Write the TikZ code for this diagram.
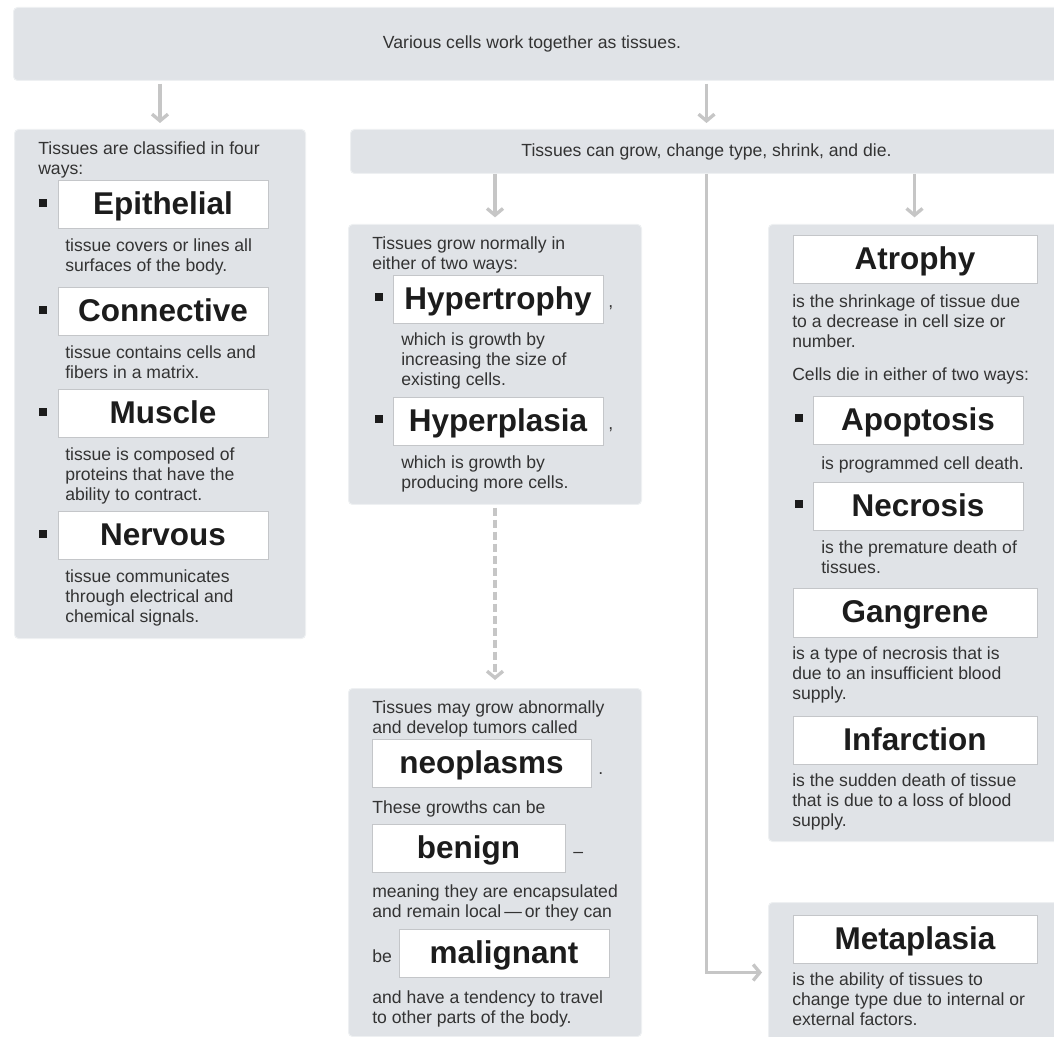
\documentclass[tikz,border=0pt]{standalone}
\usepackage{fontspec}
\setmainfont{Liberation Sans}
\usetikzlibrary{arrows.meta}

\definecolor{panelbg}{HTML}{E0E3E7}
\definecolor{panelrim}{HTML}{EEF0F2}
\definecolor{boxline}{HTML}{C4C6C9}
\definecolor{arrowgray}{HTML}{C6C6C6}
\definecolor{ink}{HTML}{333333}
\definecolor{termink}{HTML}{1C1C1C}

\newcommand{\bodyfont}{\fontsize{13.2}{15}\selectfont}
\newcommand{\termfont}{\fontsize{23.6}{26}\selectfont\bfseries}

\begin{document}
\begin{tikzpicture}[x=0.75pt,y=-0.75pt,
  panel/.style={fill=panelbg,draw=panelrim,line width=0.75pt,rounded corners=3pt,inner sep=0pt,anchor=north west},
  term/.style={draw=boxline,fill=white,line width=0.75pt,font=\termfont,text=termink,minimum height=36pt,text height=16pt,text depth=1pt,inner sep=0pt},
  txt/.style={anchor=north west,align=left,inner sep=0pt,font=\bodyfont,text=ink,yshift=-1.5pt,execute at begin node=\strut},
  punct/.style={anchor=base west,inner sep=0pt,font=\bodyfont,text=ink},
  arr/.style={draw=arrowgray,line width=2.5pt,-{Straight Barb[length=5pt,width=12pt]}}]
  \useasboundingbox (0,0) rectangle (1054,1037);

  % Panels
  \node[panel,minimum width=796.5pt,minimum height=54.75pt] (top) at (13,7) {};
  \node[font=\bodyfont,text=ink] (toptext) at (532,44) {Various cells work together as tissues.};
  \node[panel,minimum width=534pt,minimum height=33pt,font=\bodyfont,text=ink] (mid) at (350,129) {Tissues can grow, change type, shrink, and die.};
  \node[panel,minimum width=218.25pt,minimum height=381.75pt] (classes) at (14,129) {};
  \node[panel,minimum width=219.75pt,minimum height=210pt] (growth) at (348,224) {};
  \node[panel,minimum width=219.75pt,minimum height=261pt] (tumor) at (348,688) {};
  \node[panel,minimum width=219pt,minimum height=462.75pt] (shrink) at (768,224) {};
  \node[panel,minimum width=219pt,minimum height=105pt] (change) at (768,902) {};

  % Connectors
  \draw[arr,shorten <=2pt,shorten >=4.5pt] (top.south -| classes.north) -- (classes.north);
  \draw[arr,shorten <=2pt,shorten >=4.5pt] (top.south -| mid.north) -- (mid.north);
  \draw[arr,shorten >=5pt] (mid.south -| growth.north) -- (growth.north);
  \draw[arr,shorten >=5pt] (mid.south -| shrink.north) -- (shrink.north);
  \draw[arr,dash pattern=on 6pt off 3pt,shorten <=2pt,shorten >=6pt] (growth.south) -- (tumor.north);
  \draw[arr,shorten >=4.5pt] (mid.south) |- (change.west);

  % Bullets
  \foreach \bx/\by in {43/203,43/310,43/412,43/534,379/297,379/419,799/418,799/504}
    \fill[termink] (\bx-4,\by-4) rectangle (\bx+4,\by+4);

  % Four kinds of tissue
  \node[txt] (classintro) at (38,139) {Tissues are classified in four\\ways:};
  \node[term,minimum width=157.5pt] (epi) at (163,205) {Epithelial};
  \node[txt] (epitext) at (65,236) {tissue covers or lines all\\surfaces of the body.};
  \node[term,minimum width=157.5pt] (conn) at (163,312) {Connective};
  \node[txt] (conntext) at (65,343) {tissue contains cells and\\fibers in a matrix.};
  \node[term,minimum width=157.5pt] (musc) at (163,414) {Muscle};
  \node[txt] (musctext) at (65,445) {tissue is composed of\\proteins that have the\\ability to contract.};
  \node[term,minimum width=157.5pt] (nerv) at (163,536) {Nervous};
  \node[txt] (nervtext) at (65,567) {tissue communicates\\through electrical and\\chemical signals.};

  % Normal growth
  \node[txt] (growintro) at (372,234) {Tissues grow normally in\\either of two ways:};
  \node[term,minimum width=157.5pt] (hypert) at (498,300) {Hypertrophy};
  \node[punct] (comma1) at (608,308) {,};
  \node[txt] (hyperttext) at (401,330) {which is growth by\\increasing the size of\\existing cells.};
  \node[term,minimum width=157.5pt] (hyperp) at (498,422) {Hyperplasia};
  \node[punct] (comma2) at (608,430) {,};
  \node[txt] (hyperptext) at (401,453) {which is growth by\\producing more cells.};

  % Abnormal growth
  \node[txt] (tumorintro) at (372,698) {Tissues may grow abnormally\\and develop tumors called};
  \node[term,minimum width=164.25pt] (neo) at (481.5,763.5) {neoplasms};
  \node[punct] (stop) at (598,774) {.};
  \node[txt] (growthtext) at (372,797) {These growths can be};
  \node[term,minimum width=144.75pt] (benign) at (468.5,848) {benign};
  \node[punct] (dash1) at (573,857) {–};
  \node[txt] (benigntext) at (372,882) {meaning they are encapsulated\\and remain local\,—\,or they can};
  \node[punct] (be) at (372,962) {be};
  \node[term,minimum width=157.5pt] (malig) at (504,953) {malignant};
  \node[txt] (maligtext) at (372,988) {and have a tendency to travel\\to other parts of the body.};

  % Shrinking and death
  \node[term,minimum width=183pt] (atro) at (915,260) {Atrophy};
  \node[txt] (atrotext) at (792,292) {is the shrinkage of tissue due\\to a decrease in cell size or\\number.};
  \node[txt] (dieintro) at (792,364) {Cells die in either of two ways:};
  \node[term,minimum width=157.5pt] (apop) at (918,421) {Apoptosis};
  \node[txt] (apoptext) at (821,453) {is programmed cell death.};
  \node[term,minimum width=157.5pt] (necro) at (918,506.5) {Necrosis};
  \node[txt] (necrotext) at (821,538) {is the premature death of\\tissues.};
  \node[term,minimum width=183pt] (gang) at (915,613) {Gangrene};
  \node[txt] (gangtext) at (792,644) {is a type of necrosis that is\\due to an insufficient blood\\supply.};
  \node[term,minimum width=183pt] (infarct) at (915,740) {Infarction};
  \node[txt] (infarcttext) at (792,771) {is the sudden death of tissue\\that is due to a loss of blood\\supply.};

  % Change of type
  \node[term,minimum width=183pt] (metapl) at (915,939) {Metaplasia};
  \node[txt] (metapltext) at (792,970) {is the ability of tissues to\\change type due to internal or\\external factors.};
\end{tikzpicture}
\end{document}
